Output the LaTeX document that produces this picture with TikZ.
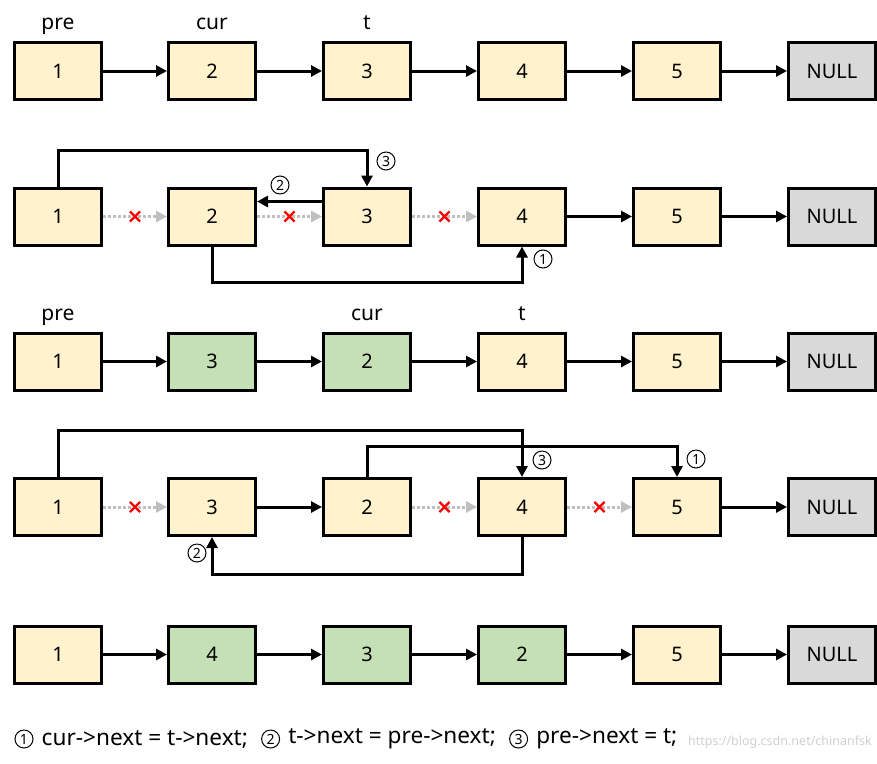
\documentclass[tikz,border=0pt]{standalone}
\usepackage{fontspec}
\setmainfont{Noto Sans}
\usetikzlibrary{arrows.meta,shapes.misc}
\definecolor{yelc}{HTML}{FFF2CC}
\definecolor{grnc}{HTML}{C5E0B4}
\definecolor{grayc}{HTML}{D9D9D9}
\definecolor{dotc}{HTML}{BFBFBF}
\definecolor{wmc}{HTML}{D0D0D0}
\tikzset{
  nd/.style={draw, line width=3pt, minimum width=87pt, minimum height=57pt, inner sep=0pt, font=\fontsize{20}{24}\selectfont},
  yel/.style={nd, fill=yelc},
  grn/.style={nd, fill=grnc},
  nul/.style={nd, fill=grayc},
  arr/.style={line width=3pt, -{Triangle[length=11pt,width=11pt]}},
  cut/.style={line width=3pt, draw=dotc, dash pattern=on 3pt off 2pt, -{Triangle[length=11pt,width=11pt,fill=dotc,sep=0pt]}},
  xmark/.style={cross out, solid, draw=red, line width=2.2pt, minimum size=8pt, inner sep=0pt},
  lbl/.style={font=\fontsize{21}{24}\selectfont, anchor=base},
  circ/.style={circle, draw, solid, line width=1pt, minimum size=18pt, inner sep=0pt, font=\fontsize{14}{16}\selectfont},
  legt/.style={anchor=west, inner sep=0pt, font=\fontsize{22.6}{26}\selectfont},
}
\begin{document}
\begin{tikzpicture}[x=1pt,y=-1pt]
\useasboundingbox (0,0) rectangle (877,763);
\fill[white] (0,0) rectangle (877,763);
% ---- Row 1
\node[lbl] (l1pre) at (58,29) {pre};
\node[lbl] (l1cur) at (212,29) {cur};
\node[lbl] (l1t) at (367,29) {t};
\node[yel] (a1) at (58,71) {1};
\node[yel] (a2) at (212,71) {2};
\node[yel] (a3) at (367,71) {3};
\node[yel] (a4) at (522,71) {4};
\node[yel] (a5) at (677,71) {5};
\node[nul] (a6) at (832,71) {NULL};
\draw[arr] (a1) -- (a2);
\draw[arr] (a2) -- (a3);
\draw[arr] (a3) -- (a4);
\draw[arr] (a4) -- (a5);
\draw[arr] (a5) -- (a6);
% ---- Row 2
\node[yel] (b1) at (58,216.5) {1};
\node[yel] (b2) at (212,216.5) {2};
\node[yel] (b3) at (367,216.5) {3};
\node[yel] (b4) at (522,216.5) {4};
\node[yel] (b5) at (677,216.5) {5};
\node[nul] (b6) at (832,216.5) {NULL};
\draw[cut] (b1) -- (b2) node[midway, xmark] (bx1) {};
\draw[cut] (b2) -- (b3) node[midway, xmark] (bx2) {};
\draw[cut] (b3) -- (b4) node[midway, xmark] (bx3) {};
\draw[arr] (b4) -- (b5);
\draw[arr] (b5) -- (b6);
\draw[arr] (b1.north) -- (b1.north |- 0,150) -| (b3.north);
\draw[arr] ([yshift=15pt]b3.west) -- ([yshift=15pt]b2.east);
\draw[arr] (b2.south) -- (b2.south |- 0,282) -| (b4.south);
\node[circ] (bc3) at (386,161) {3};
\node[circ] (bc2) at (280,185) {2};
\node[circ] (bc1) at (543,259) {1};
% ---- Row 3
\node[lbl] (l3pre) at (58,320) {pre};
\node[lbl] (l3cur) at (367,320) {cur};
\node[lbl] (l3t) at (522,320) {t};
\node[yel] (c1) at (58,361.5) {1};
\node[grn] (c2) at (212,361.5) {3};
\node[grn] (c3) at (367,361.5) {2};
\node[yel] (c4) at (522,361.5) {4};
\node[yel] (c5) at (677,361.5) {5};
\node[nul] (c6) at (832,361.5) {NULL};
\draw[arr] (c1) -- (c2);
\draw[arr] (c2) -- (c3);
\draw[arr] (c3) -- (c4);
\draw[arr] (c4) -- (c5);
\draw[arr] (c5) -- (c6);
% ---- Row 4
\node[yel] (d1) at (58,507) {1};
\node[yel] (d2) at (212,507) {3};
\node[yel] (d3) at (367,507) {2};
\node[yel] (d4) at (522,507) {4};
\node[yel] (d5) at (677,507) {5};
\node[nul] (d6) at (832,507) {NULL};
\draw[cut] (d1) -- (d2) node[midway, xmark] (dx1) {};
\draw[arr] (d2) -- (d3);
\draw[cut] (d3) -- (d4) node[midway, xmark] (dx2) {};
\draw[cut] (d4) -- (d5) node[midway, xmark] (dx3) {};
\draw[arr] (d5) -- (d6);
\draw[arr] (d1.north) -- (d1.north |- 0,430) -| (d4.north);
\draw[arr] (d3.north) -- (d3.north |- 0,446) -| (d5.north);
\draw[arr] (d4.south) -- (d4.south |- 0,574) -| (d2.south);
\node[circ] (dc3) at (542,460) {3};
\node[circ] (dc1) at (696,459) {1};
\node[circ] (dc2) at (197,553) {2};
% ---- Row 5
\node[yel] (e1) at (58,654.5) {1};
\node[grn] (e2) at (212,654.5) {4};
\node[grn] (e3) at (367,654.5) {3};
\node[grn] (e4) at (522,654.5) {2};
\node[yel] (e5) at (677,654.5) {5};
\node[nul] (e6) at (832,654.5) {NULL};
\draw[arr] (e1) -- (e2);
\draw[arr] (e2) -- (e3);
\draw[arr] (e3) -- (e4);
\draw[arr] (e4) -- (e5);
\draw[arr] (e5) -- (e6);
% ---- Legend
\node[circ] (g1) at (24,739) {1};
\node[legt] (t1) at ([xshift=8pt]g1.east) {cur->next = t->next;};
\node[circ, anchor=west] (g2) at ([xshift=13pt]t1.east) {2};
\node[legt] (t2) at ([xshift=8pt]g2.east) {t->next = pre->next;};
\node[circ, anchor=west] (g3) at ([xshift=13pt]t2.east) {3};
\node[legt] (t3) at ([xshift=8pt]g3.east) {pre->next = t;};
\node[wmc, font=\fontsize{12.5}{15}\selectfont, anchor=east, inner sep=0pt] (wm) at (872,742) {https://blog.csdn.net/chinanfsk};
\end{tikzpicture}
\end{document}
